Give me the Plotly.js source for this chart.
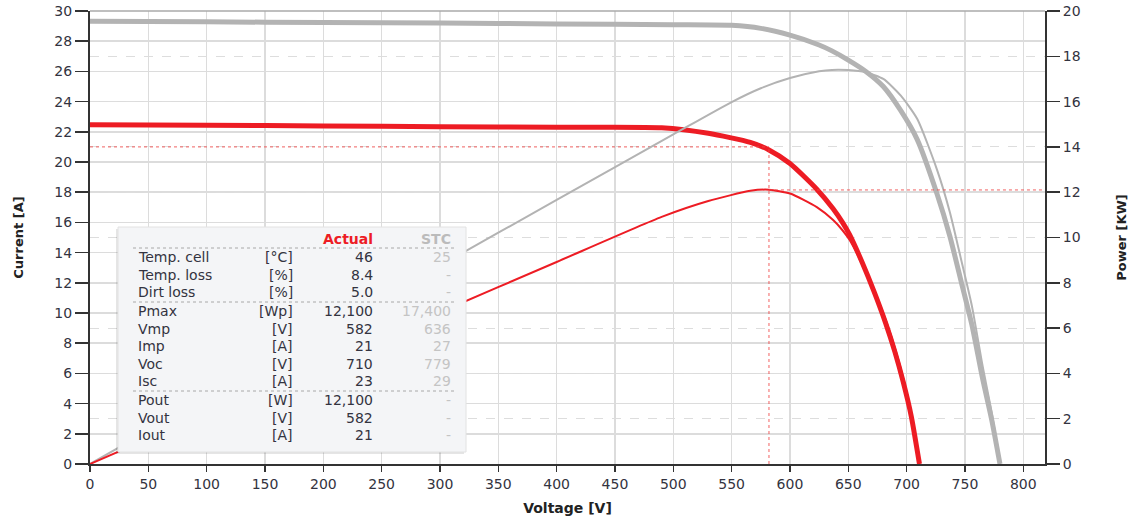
<!DOCTYPE html>
<html>
<head>
<meta charset="utf-8">
<script src="https://cdn.plot.ly/plotly-3.0.1.min.js"></script>
<style>
  html, body { margin: 0; padding: 0; background: #fff; }
  #chart { width: 1131px; height: 522px; }
</style>
</head>
<body>
<div id="chart"></div>
<script>
// ---------- Data ----------
// STC curves (grey)
const voltageSTC = [0, 100, 200, 300, 400, 500, 550, 575, 600, 625, 636, 650, 665, 680, 695, 709, 726, 737, 747, 756, 765, 773, 780];
const currentSTC = [29.32, 29.28, 29.24, 29.2, 29.14, 29.09, 29.05, 28.85, 28.4, 27.75, 27.36, 26.75, 26.0, 25.0, 23.4, 21.5, 17.9, 15.1, 12.0, 9.2, 5.7, 2.9, 0];
const powerSTC   = [0, 2.93, 5.85, 8.76, 11.66, 14.55, 15.98, 16.59, 17.04, 17.34, 17.40, 17.39, 17.29, 17.0, 16.26, 15.24, 13.0, 11.13, 8.96, 6.96, 4.36, 2.24, 0];

// Actual curves (red)
const voltageAct = [0, 100, 200, 300, 400, 490, 530, 566, 582, 600, 623, 637, 645, 651, 662, 672, 682, 690, 697, 704, 711];
const currentAct = [22.47, 22.43, 22.39, 22.34, 22.3, 22.27, 21.9, 21.3, 20.8, 19.9, 18.2, 16.9, 16.0, 15.2, 13.33, 11.43, 9.33, 7.41, 5.45, 3.15, 0];
const powerAct   = [0, 2.24, 4.48, 6.70, 8.92, 10.91, 11.61, 12.06, 12.11, 11.94, 11.34, 10.77, 10.32, 9.90, 8.82, 7.68, 6.36, 5.11, 3.80, 2.22, 0];

// Maximum power point (actual)
const vmpAct = 582;
const impAct = 21;
const pmaxAct = 12.1;   // kW

// Axis ticks
const xTicks = [0, 50, 100, 150, 200, 250, 300, 350, 400, 450, 500, 550, 600, 650, 700, 750, 800];
const yTicks = [0, 2, 4, 6, 8, 10, 12, 14, 16, 18, 20, 22, 24, 26, 28, 30];
const y2Ticks = [0, 2, 4, 6, 8, 10, 12, 14, 16, 18, 20];

// Table
const tableLabels = ["Temp. cell", "Temp. loss", "Dirt loss", "Pmax", "Vmp", "Imp", "Voc", "Isc", "Pout", "Vout", "Iout"];
const tableUnits  = ["[°C]", "[%]", "[%]", "[Wp]", "[V]", "[A]", "[V]", "[A]", "[W]", "[V]", "[A]"];
const tableActual = ["46", "8.4", "5.0", "12,100", "582", "21", "710", "23", "12,100", "582", "21"];
const tableSTC    = ["25", "-", "-", "17,400", "636", "27", "779", "29", "-", "-", "-"];

// ---------- Layout geometry ----------
const W = 1131, H = 522;
const mL = 90, mR = 86, mT = 11, mB = 58;
const plotW = W - mL - mR, plotH = H - mT - mB;
const px = x => (x - mL) / plotW;
const py = y => (H - mB - y) / plotH;

const RED = '#ed1c24';
const GREY = '#b3b3b3';
const FONT = 'Verdana, "DejaVu Sans", sans-serif';
const TXT = '#333340';
const SM = 0.6;

const traces = [
  { x: voltageSTC, y: currentSTC, type: 'scatter', mode: 'lines', yaxis: 'y',
    line: { color: GREY, width: 5, shape: 'spline', smoothing: SM }, hoverinfo: 'skip', showlegend: false },
  { x: voltageSTC, y: powerSTC, type: 'scatter', mode: 'lines', yaxis: 'y2',
    line: { color: GREY, width: 2, shape: 'spline', smoothing: SM }, hoverinfo: 'skip', showlegend: false },
  { x: voltageAct, y: powerAct, type: 'scatter', mode: 'lines', yaxis: 'y2',
    line: { color: RED, width: 2, shape: 'spline', smoothing: SM }, hoverinfo: 'skip', showlegend: false },
  { x: voltageAct, y: currentAct, type: 'scatter', mode: 'lines', yaxis: 'y',
    line: { color: RED, width: 5, shape: 'spline', smoothing: SM }, hoverinfo: 'skip', showlegend: false },
  // MPP reference lines
  { x: [0, vmpAct], y: [impAct, impAct], type: 'scatter', mode: 'lines', yaxis: 'y',
    line: { color: 'rgba(240,70,70,0.85)', width: 1, dash: 'dot' }, hoverinfo: 'skip', showlegend: false },
  { x: [vmpAct, vmpAct], y: [0, impAct], type: 'scatter', mode: 'lines', yaxis: 'y',
    line: { color: 'rgba(240,70,70,0.85)', width: 1, dash: 'dot' }, hoverinfo: 'skip', showlegend: false },
  { x: [vmpAct, 820], y: [pmaxAct, pmaxAct], type: 'scatter', mode: 'lines', yaxis: 'y2',
    line: { color: 'rgba(240,70,70,0.85)', width: 1, dash: 'dot' }, hoverinfo: 'skip', showlegend: false }
];

// Table annotations
const annotations = [];
const colLabel = 136, colUnit = 295, colAct = 375, colSTC = 453;
const rowY = [257, 274.5, 292, 311, 328.5, 346, 363.5, 381, 400, 417.5, 435];
annotations.push({ xref: 'paper', yref: 'paper', x: px(colAct), y: py(238.5), xanchor: 'right', yanchor: 'middle',
  text: '<b>Actual</b>', showarrow: false, font: { family: FONT, size: 14, color: RED } });
annotations.push({ xref: 'paper', yref: 'paper', x: px(colSTC), y: py(238.5), xanchor: 'right', yanchor: 'middle',
  text: '<b>STC</b>', showarrow: false, font: { family: FONT, size: 14, color: '#bbbbbb' } });
tableLabels.forEach((lab, i) => {
  const yy = py(rowY[i]);
  annotations.push({ xref: 'paper', yref: 'paper', x: px(colLabel), y: yy, xanchor: 'left', yanchor: 'middle',
    text: lab, showarrow: false, font: { family: FONT, size: 14, color: TXT } });
  annotations.push({ xref: 'paper', yref: 'paper', x: px(colUnit), y: yy, xanchor: 'right', yanchor: 'middle',
    text: tableUnits[i], showarrow: false, font: { family: FONT, size: 14, color: TXT } });
  annotations.push({ xref: 'paper', yref: 'paper', x: px(colAct), y: yy, xanchor: 'right', yanchor: 'middle',
    text: tableActual[i], showarrow: false, font: { family: FONT, size: 14, color: TXT } });
  annotations.push({ xref: 'paper', yref: 'paper', x: px(colSTC), y: yy, xanchor: 'right', yanchor: 'middle',
    text: tableSTC[i], showarrow: false, font: { family: FONT, size: 14, color: '#c4c4c4' } });
});

const shapes = [
  // top border
  { type: 'line', xref: 'paper', yref: 'paper', x0: 0, x1: 1, y0: 1, y1: 1, line: { color: '#aaaaaa', width: 1.5 }, layer: 'above' },
  // table shadow + box
  { type: 'rect', xref: 'paper', yref: 'paper', x0: px(116), x1: px(464), y0: py(454), y1: py(229),
    fillcolor: 'rgba(0,0,0,0.10)', line: { width: 0 }, layer: 'above' },
  { type: 'rect', xref: 'paper', yref: 'paper', x0: px(118), x1: px(466), y0: py(452), y1: py(227),
    fillcolor: '#f4f5f7', line: { color: '#e2e2e2', width: 1 }, layer: 'above' }
];
[248, 302, 391].forEach(y => {
  shapes.push({ type: 'line', xref: 'paper', yref: 'paper', x0: px(133), x1: px(455), y0: py(y), y1: py(y),
    line: { color: '#a8a8a8', width: 1, dash: 'dot' }, layer: 'above' });
});

const layout = {
  width: W, height: H,
  margin: { l: mL, r: mR, t: mT, b: mB, pad: 0 },
  paper_bgcolor: '#ffffff', plot_bgcolor: '#ffffff',
  showlegend: false,
  font: { family: FONT, size: 14, color: TXT },
  xaxis: {
    range: [0, 818.6], tickvals: xTicks, ticktext: xTicks.map(String),
    showgrid: true, gridcolor: '#dcdcdc', gridwidth: 1.5,
    zeroline: false, showline: true, linecolor: '#333333', linewidth: 2,
    ticks: 'outside', ticklen: 6, tickwidth: 1.5, tickcolor: '#333333',
    tickfont: { family: FONT, size: 14, color: TXT },
    title: { text: '<b>Voltage [V]</b>', font: { family: FONT, size: 14, color: '#222222' }, standoff: 12 },
    fixedrange: true
  },
  yaxis: {
    range: [0, 30], tickvals: yTicks, ticktext: yTicks.map(String),
    showgrid: true, gridcolor: '#dcdcdc', gridwidth: 1.5,
    zeroline: false, showline: true, linecolor: '#333333', linewidth: 2,
    ticks: 'outside', ticklen: 13, tickwidth: 1.5, tickcolor: '#333333',
    tickfont: { family: FONT, size: 14, color: TXT },
    title: { text: '<b>Current [A]</b>', font: { family: FONT, size: 13, color: '#222222' }, standoff: 28 },
    fixedrange: true
  },
  yaxis2: {
    range: [0, 20], tickvals: y2Ticks, ticktext: y2Ticks.map(String),
    overlaying: 'y', side: 'right',
    showgrid: true, gridcolor: '#dddddd', gridwidth: 1, griddash: 'dash',
    zeroline: false, showline: true, linecolor: '#333333', linewidth: 2,
    ticks: 'outside', ticklen: 13, tickwidth: 1.5, tickcolor: '#333333',
    tickfont: { family: FONT, size: 14, color: TXT },
    title: { text: '<b>Power [KW]</b>', font: { family: FONT, size: 13, color: '#222222' }, standoff: 37 },
    fixedrange: true
  },
  shapes: shapes,
  annotations: annotations
};

Plotly.newPlot('chart', traces, layout, { displayModeBar: false, staticPlot: true });
</script>
</body>
</html>
